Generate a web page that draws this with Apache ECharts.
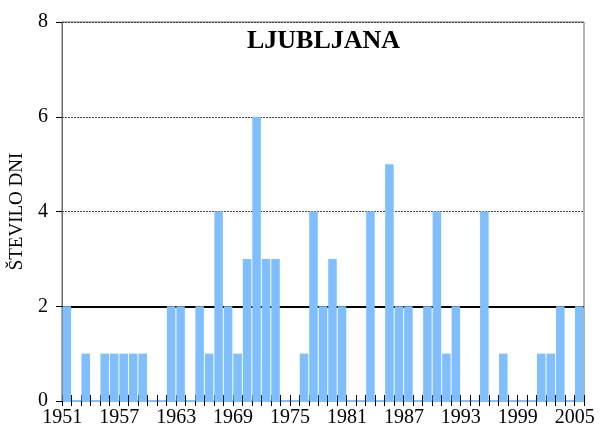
<!DOCTYPE html>
<html>
<head>
<meta charset="utf-8">
<script src="https://cdn.jsdelivr.net/npm/echarts@6/dist/echarts.min.js"></script>
<style>
  html, body { margin: 0; padding: 0; background: #fff; }
  #chart { width: 600px; height: 428px; }
</style>
</head>
<body>
<div id="chart"></div>
<script>
// leta 1951-2005
var years = [];
for (var y = 1951; y <= 2005; y++) years.push(String(y));

// število dni
var days = [
  2, 0, 1, 0, 1, 1, 1, 1, 1, 0,
  0, 2, 2, 0, 2, 1, 4, 2, 1, 3,
  6, 3, 3, 0, 0, 1, 4, 2, 3, 2,
  0, 0, 4, 0, 5, 2, 2, 0, 2, 4,
  1, 2, 0, 0, 4, 0, 1, 0, 0, 0,
  1, 1, 2, 0, 2
];

var yTicks = [0, 2, 4, 6, 8];
var threshold = 2;

var serif = 'Liberation Serif';
var chart = echarts.init(document.getElementById('chart'));

chart.setOption({
  animation: false,
  title: {
    text: 'LJUBLJANA',
    left: 242,
    top: 23,
    textStyle: { fontFamily: serif, fontWeight: 'bold', fontSize: 26, color: '#000' }
  },
  grid: {
    left: 62, right: 16, top: 22, bottom: 27,
    show: true, borderColor: '#666', borderWidth: 1
  },
  xAxis: [{
    type: 'category',
    data: years,
    position: 'bottom',
    boundaryGap: true,
    axisLine: { show: true, lineStyle: { color: '#86c1fb', width: 2 } },
    axisTick: { show: true, interval: 0, length: 5, lineStyle: { color: '#000' } },
    axisLabel: {
      interval: 5,
      margin: 7,
      padding: [0, 9, 0, 0],
      fontFamily: serif, fontSize: 20, color: '#000'
    },
    splitLine: { show: false }
  }, {
    type: 'category',
    data: years,
    position: 'bottom',
    boundaryGap: true,
    axisLine: { show: false },
    axisTick: { show: true, inside: true, interval: 0, length: 6, lineStyle: { color: '#000' } },
    axisLabel: { show: false },
    splitLine: { show: false }
  }],
  yAxis: {
    type: 'value',
    min: yTicks[0],
    max: yTicks[yTicks.length - 1],
    interval: 2,
    name: 'ŠTEVILO DNI',
    nameLocation: 'middle',
    nameGap: 35,
    nameTextStyle: { fontFamily: serif, fontSize: 19, color: '#000' },
    axisLine: { show: true, lineStyle: { color: '#666' } },
    axisTick: { show: true, length: 6, lineStyle: { color: '#000' } },
    axisLabel: { margin: 14, fontFamily: serif, fontSize: 20, color: '#000' },
    splitLine: { show: true, lineStyle: { color: '#444', type: [2, 1], width: 1 } }
  },
  series: [{
    type: 'bar',
    xAxisIndex: 0,
    data: days,
    barCategoryGap: '10%',
    itemStyle: { color: '#80bfff' },
    markLine: {
      silent: true,
      z: 1,
      symbol: 'none',
      label: { show: false },
      lineStyle: { color: '#000', width: 2, type: 'solid' },
      data: [{ yAxis: threshold }]
    }
  }]
});
</script>
</body>
</html>
